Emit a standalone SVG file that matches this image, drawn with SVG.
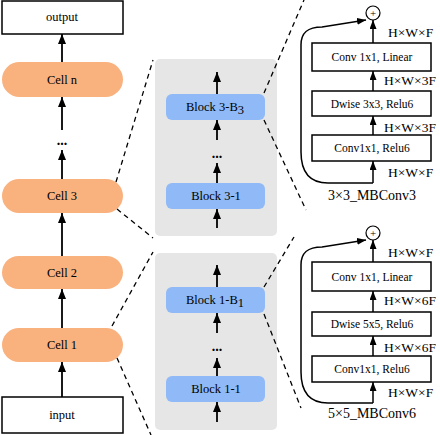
<svg xmlns="http://www.w3.org/2000/svg" width="440" height="435" viewBox="0 0 440 435" font-family="'Liberation Serif', 'Times New Roman', serif">
<defs>
<marker id="ah" markerUnits="userSpaceOnUse" markerWidth="10" markerHeight="8" refX="10" refY="4" orient="auto">
<path d="M0,0 L10,4 L0,8 z" fill="#000"/>
</marker>
<marker id="ahs" markerUnits="userSpaceOnUse" markerWidth="9" markerHeight="7" refX="9" refY="3.5" orient="auto">
<path d="M0,0 L9,3.5 L0,7 z" fill="#000"/>
</marker>
<style>
text{fill:#000}
.box{fill:#fff;stroke:#000;stroke-width:1.5}
.cell{fill:#f9b17e}
.panel{fill:#e6e6e6}
.blk{fill:#8fbaf7}
.t12{font-size:12.5px;text-anchor:middle}
.t11{font-size:11.5px;text-anchor:middle}
.lab{font-size:13.5px}
.cap{font-size:14px;text-anchor:middle}
.dots{font-size:14px;font-weight:bold;text-anchor:middle}
.arr{stroke:#000;stroke-width:1.8;fill:none;marker-end:url(#ah)}
.arrs{stroke:#000;stroke-width:1.5;fill:none;marker-end:url(#ahs)}
.dash{stroke:#000;stroke-width:1.3;stroke-dasharray:5 4;fill:none}
</style>
</defs>

<g id="output"><rect class="box" x="2" y="1" width="121" height="33"/><text class="t12" x="62" y="21">output</text></g>
<g id="cell_n"><rect class="cell" x="2" y="62" width="121" height="35" rx="17.5"/><text class="t12" x="62" y="84">Cell n</text></g>
<g id="dots_left"><text class="dots" x="62" y="145">...</text></g>
<g id="cell_3"><rect class="cell" x="2" y="179" width="121" height="34" rx="17"/><text class="t12" x="62" y="200">Cell 3</text></g>
<g id="cell_2"><rect class="cell" x="2" y="256" width="121" height="33" rx="16.5"/><text class="t12" x="62" y="277">Cell 2</text></g>
<g id="cell_1"><rect class="cell" x="2" y="328" width="121" height="34" rx="17"/><text class="t12" x="62" y="349">Cell 1</text></g>
<g id="input"><rect class="box" x="2" y="397" width="121" height="36"/><text class="t12" x="62" y="419">input</text></g>

<g id="panel_top"><rect class="panel" x="155" y="59" width="122" height="177" rx="5"/></g>
<g id="block_3_B3"><rect class="blk" x="166" y="94" width="99" height="26" rx="6"/><text class="t12" x="215" y="111">Block 3-B<tspan dy="3">3</tspan></text></g>
<g id="dots_top"><text class="dots" x="217" y="158">...</text></g>
<g id="block_3_1"><rect class="blk" x="166" y="183" width="99" height="26" rx="6"/><text class="t12" x="216" y="200">Block 3-1</text></g>

<g id="panel_bottom"><rect class="panel" x="155" y="253" width="122" height="177" rx="5"/></g>
<g id="block_1_B1"><rect class="blk" x="166" y="287" width="99" height="26" rx="6"/><text class="t12" x="215" y="304">Block 1-B<tspan dy="3">1</tspan></text></g>
<g id="dots_bottom"><text class="dots" x="217" y="351">...</text></g>
<g id="block_1_1"><rect class="blk" x="166" y="376" width="99" height="26" rx="6"/><text class="t12" x="216" y="393">Block 1-1</text></g>

<g id="mbconv3">
<circle cx="373" cy="13" r="7" fill="#fff" stroke="#000" stroke-width="1.2"/><text x="373" y="17" style="font-size:11px;text-anchor:middle">+</text>
<rect class="box" x="312" y="43" width="119" height="28"/><text class="t11" x="372" y="61">Conv 1x1, Linear</text>
<rect class="box" x="312" y="91" width="119" height="25"/><text class="t11" x="372" y="107.5">Dwise 3x3, Relu6</text>
<rect class="box" x="312" y="135" width="119" height="26"/><text class="t11" x="372" y="152">Conv1x1, Relu6</text>
<text class="lab" x="388" y="37">H×W×F</text>
<text class="lab" x="384" y="85">H×W×3F</text>
<text class="lab" x="384" y="132">H×W×3F</text>
<text class="lab" x="388" y="177">H×W×F</text>
<text class="cap" x="372" y="200">3×3_MBConv3</text>
</g>

<g id="mbconv6">
<circle cx="373" cy="233" r="7" fill="#fff" stroke="#000" stroke-width="1.2"/><text x="373" y="237" style="font-size:11px;text-anchor:middle">+</text>
<rect class="box" x="312" y="262" width="119" height="29"/><text class="t11" x="372" y="281">Conv 1x1, Linear</text>
<rect class="box" x="312" y="312" width="119" height="24"/><text class="t11" x="372" y="328">Dwise 5x5, Relu6</text>
<rect class="box" x="312" y="356" width="119" height="26"/><text class="t11" x="372" y="373">Conv1x1, Relu6</text>
<text class="lab" x="388" y="257">H×W×F</text>
<text class="lab" x="384" y="305">H×W×6F</text>
<text class="lab" x="384" y="352">H×W×6F</text>
<text class="lab" x="388" y="397">H×W×F</text>
<text class="cap" x="372" y="418">5×5_MBConv6</text>
</g>

<g id="connectors">
<line class="arr" x1="62" y1="397" x2="62" y2="362"/>
<line class="arr" x1="62" y1="328" x2="62" y2="289"/>
<line class="arr" x1="62" y1="256" x2="62" y2="213"/>
<line class="arr" x1="62" y1="179" x2="62" y2="150"/>
<line class="arr" x1="62" y1="130" x2="62" y2="97"/>
<line class="arr" x1="62" y1="62" x2="62" y2="34"/>

<line class="arr" x1="217" y1="94" x2="217" y2="72"/>
<line class="arr" x1="217" y1="140" x2="217" y2="120"/>
<line class="arr" x1="217" y1="183" x2="217" y2="163"/>
<line class="arr" x1="217" y1="228" x2="217" y2="209"/>
<line class="arr" x1="217" y1="287" x2="217" y2="265"/>
<line class="arr" x1="217" y1="333" x2="217" y2="313"/>
<line class="arr" x1="217" y1="376" x2="217" y2="358"/>
<line class="arr" x1="217" y1="422" x2="217" y2="402"/>

<line class="dash" x1="116" y1="182" x2="153" y2="60"/>
<line class="dash" x1="117" y1="209" x2="153" y2="238"/>
<line class="dash" x1="112" y1="326" x2="153" y2="252"/>
<line class="dash" x1="117" y1="358" x2="151" y2="435"/>
<line class="dash" x1="264" y1="93" x2="304" y2="0"/>
<line class="dash" x1="264" y1="120" x2="306" y2="210"/>
<line class="dash" x1="264" y1="287" x2="294" y2="237"/>
<line class="dash" x1="264" y1="314" x2="301" y2="408"/>

<line class="arrs" x1="373" y1="43" x2="373" y2="20"/>
<line class="arrs" x1="373" y1="91" x2="373" y2="71"/>
<line class="arrs" x1="373" y1="135" x2="373" y2="116"/>
<line class="arrs" x1="373" y1="183" x2="373" y2="161"/>
<path class="arrs" d="M373,183 L328,183 C309,183 301,172 301,152 L301,45 C301,32 308,27 322,27 L366,20"/>

<line class="arrs" x1="373" y1="262" x2="373" y2="240"/>
<line class="arrs" x1="373" y1="312" x2="373" y2="291"/>
<line class="arrs" x1="373" y1="356" x2="373" y2="336"/>
<line class="arrs" x1="373" y1="403" x2="373" y2="382"/>
<path class="arrs" d="M373,403 L328,403 C309,403 301,392 301,372 L301,265 C301,252 308,247 322,247 L366,240"/>
</g>
</svg>
